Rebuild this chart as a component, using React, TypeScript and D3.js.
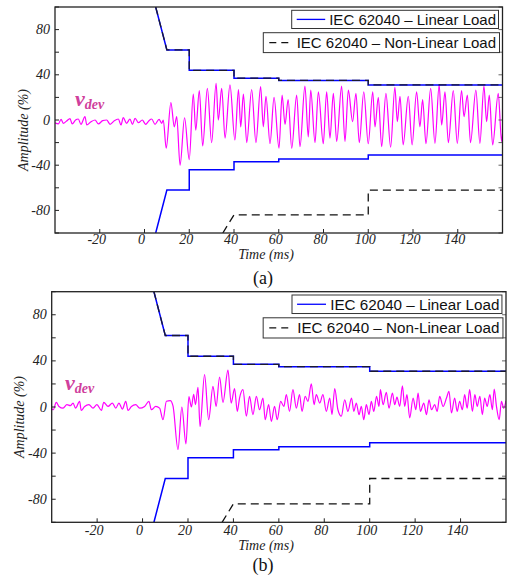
import React from "react";
import * as d3 from "d3";

// axis ticks
const timeTicks = [-20, 0, 20, 40, 60, 80, 100, 120, 140];
const ampTicks = [-80, -40, 0, 40, 80];
const ampMinorTicks = [-100, -80, -60, -40, -20, 0, 20, 40, 60, 80, 100];

// IEC 62040 tolerance envelopes
const limitTimes = [5, 10, 20, 20, 40, 40, 60, 60, 100, 100, 160];
const linearUpper = [100, 62, 62, 44, 44, 37, 37, 35, 35, 31, 31];
const linearLower = [-100, -62, -62, -44, -44, -37, -37, -34.5, -34.5, -31, -31];
const nonLinearUpper = linearUpper;
const nonLinearLowerTimes = [35, 40, 100, 100, 160];
const nonLinearLower = [-100, -84, -84, -62, -62];

const legendLabels = ["IEC 62040 – Linear Load", "IEC 62040 – Non-Linear Load"];
const panelLabels = ["(a)", "(b)"];

// v_dev, panel (a): [time ms, amplitude %]
const vdevA: [number, number][] = [
  [-40, -2.4], [-38.5, -3.5], [-37.3, 0.6], [-36.3, -2.9], [-34.8, -0.9], [-33.3, 1.2], [-32.3, -3.5],
  [-30.8, 0], [-29.6, 0.9], [-28.4, -3.8], [-26.6, 3], [-25.8, -4.4], [-23.9, -1.5], [-22.1, 0],
  [-20.6, -3.5], [-18.7, -0.6], [-16.9, 0], [-15.4, -3.8], [-13.5, -0.6], [-11.7, 0.9], [-10.5, -4.4],
  [-9.5, 2.1], [-8, -2.9], [-6.5, 0.9], [-5.4, -3.8], [-4.2, 1.5], [-2.7, -2.4], [-1, 0], [0.5, -3.8],
  [2, -0.6], [3.2, 0.9], [4.7, -3.8], [6.5, 0.6], [7.7, -2.9], [8.4, 0],
  [9.7, -25], [11.8, 15.5], [13.3, -6], [14.4, 3], [15.9, -40], [17.9, 2], [20, -35], [21.8, 23],
  [22.9, -9], [24.5, 26], [26, -23], [28.1, 28], [30, -20], [32, 32.5], [33, 0], [34.5, 28], [36, -16],
  [38.2, 31], [40.4, -17.7], [42, 27], [43, -6], [44.2, 23], [45.7, -20], [47.9, 27], [49.8, -20],
  [51.9, 29.5], [53.1, -6], [54.3, 21], [56.1, -21], [57.9, 20], [60.1, -25], [61.5, 22], [62.8, -4],
  [64.2, 18], [65.8, -25], [68, 22], [69.5, -23.6], [71.7, 30], [73.2, -15], [74.3, 26.5], [76.2, -20],
  [77.7, 25], [79.9, -21], [81.4, 25], [82.9, -16], [84.4, 23.6], [85.9, -19], [88.1, 30], [89.6, -19],
  [91.1, 26.5], [93, -1.5], [94.5, 23.6], [96, -20], [98, 25], [100, -21], [102, 25], [103, -6],
  [104.5, 20], [106, -23.6], [107.9, 23.6], [110, -24], [111.9, 29], [113, -1.5], [114.2, 21],
  [115.6, -22], [117.9, 21], [119.6, -22], [121.6, 25], [123.1, -6], [124.3, 18], [125.8, -21],
  [127.9, 28], [129.8, -20.6], [131.7, 31], [132.8, -4.4], [134.3, 25], [135.8, -20], [138, 26],
  [139.8, -20.6], [141.7, 26], [142.8, 3], [144.3, 22], [145.7, -20], [148.1, 26.5], [149.9, -20.6],
  [151.7, 30], [152.9, -1.5], [154.1, 22], [155.6, -22], [158.1, 23.6], [159.6, -19], [160, -12],
];

// v_dev, panel (b)
const vdevB: [number, number][] = [
  [-40, -1.5], [-39.3, -2.4], [-38, 4], [-36.8, 0.5], [-35, -1], [-33.3, 2], [-31.8, 1.2], [-30.6, 3.4],
  [-29.5, -1], [-27.7, 4.9], [-27, -3], [-25.5, 0.5], [-23.6, 2], [-21.8, -1], [-20.1, 2], [-18.1, -3],
  [-17.1, 4], [-15.2, 0.5], [-13.3, 3.4], [-11.8, -1], [-10.4, 3.4], [-8.9, -1.8], [-7.4, 4.9],
  [-6.4, -3], [-4.9, 0.5], [-3, 2], [-1.3, -1], [0.9, 0.5], [2.8, 4.9], [3.9, -2.4], [5.8, 0.5],
  [7.5, -1], [9, -11], [10.5, 5], [12.2, 5.5], [13.4, 1], [15.6, -37], [17.3, 0], [19.1, -32],
  [20.4, 9], [21.5, 0], [22.5, 11], [23.3, 2], [24.4, 17], [25.3, -17], [27.3, 28], [29.1, -11],
  [31, 18], [32.4, 0.5], [33.9, 26], [35.4, 4], [37.6, 32], [39, 3.4], [40.5, 16], [41.7, -3.8],
  [42.7, 7.8], [44.2, 15], [45.7, -8], [47.1, 9.2], [48.6, -6.6], [50.1, 9.2], [51.5, -2.4], [53, 7.8],
  [54, -11], [55.5, 2], [56.7, -12.5], [58.1, 0.5], [59.3, -11], [60.8, 4.9], [62.2, 0.5], [63.3, 10.7],
  [64.7, -3.8], [66.2, 15], [67.7, -1], [69.1, 10.7], [70.2, -3.8], [71.6, 9.2], [72.8, 4.9], [74.3, 20],
  [75.5, 2], [76.5, 10.7], [78, 3.4], [79.4, 10.7], [80.9, -3.8], [82.4, 7.8], [83.4, -6.6], [84.6, 16],
  [86, -2.4], [87.5, -8], [89, 6.3], [90.4, -3.8], [92, 7.8], [93, -3.8], [94.1, 3.4], [95.3, -6.6],
  [96.3, 0.5], [97.4, -11], [98.5, 2], [99.7, -6.6], [100.7, 4.9], [101.8, -3.8], [103, 9.2],
  [104.1, 0.5], [104.7, 15], [105.9, 2], [107.3, 12.7], [108.5, -1], [110, 12], [111, 2], [112, 8.6],
  [113.2, 0.5], [114.4, 18.4], [115.4, 0.5], [116.4, 10.7], [117.6, -9.5], [119.1, 7.8], [120.3, -2.4],
  [121.3, 12], [122.3, -3.8], [123.8, 3.4], [125, -6.6], [126.1, 6.3], [127.2, -2.4], [128.6, 2],
  [129.7, -3.8], [130.8, 9.2], [132.3, 0.5], [133.8, 7.8], [134.9, 13.6], [136, -5.2], [137.4, 7.8],
  [138.5, -3.8], [139.6, 4.9], [140.8, -2.4], [141.8, 10.7], [142.9, -1], [144, 15], [145.2, -3.8],
  [146.3, 10.7], [147.3, 0.5], [148.5, 9.2], [149.6, -6.6], [150.6, 7.8], [151.7, 0.5], [152.9, 10.7],
  [154, -2.4], [154.8, 15.6], [155.8, 0.5], [157, -11], [158, 4.9], [159, -1], [160, 5.5],
];

const serif = "'Liberation Serif', 'Times New Roman', serif";
const sans = "'Liberation Sans', Arial, Helvetica, sans-serif";
const magenta = "#ff00ff";
const labelPink = "#d0409c";

type Box = { left: number; right: number; top: number; bottom: number };

const panels = [
  {
    id: "a",
    box: { left: 55, right: 502.5, top: 7, bottom: 233 },
    data: vdevA,
    vdevPos: [75, 106],
    ampLabel: [28, 130],
    timeBase: 259,
    tickBase: 244,
    capBase: 284,
  },
  {
    id: "b",
    box: { left: 51.7, right: 506, top: 291.7, bottom: 522.3 },
    data: vdevB,
    vdevPos: [65, 390],
    ampLabel: [24, 417],
    timeBase: 550,
    tickBase: 535,
    capBase: 571,
  },
];

function Panel({ p, idx }: { p: (typeof panels)[number]; idx: number }) {
  const b: Box = p.box;
  const x = d3.scaleLinear().domain([-40, 160]).range([b.left, b.right]);
  const y = d3.scaleLinear().domain([-100, 100]).range([b.bottom, b.top]);

  const line = d3
    .line<[number, number]>()
    .x((d) => x(d[0]))
    .y((d) => y(d[1]));
  const smooth = d3
    .line<[number, number]>()
    .x((d) => x(d[0]))
    .y((d) => y(d[1]))
    .curve(d3.curveMonotoneX);

  const zip = (ts: number[], vs: number[]) => ts.map((t, i) => [t, vs[i]] as [number, number]);

  const clipId = "clip-" + p.id;
  const s = (b.right - b.left) / 447.5;
  const R = b.right;
  const T = b.top;

  const box1 = { x0: R - 210.8 * s, x1: R - 4 * s, y0: T + 3.3, y1: T + 21.5 * s };
  const box2 = { x0: R - 239.2 * s, x1: R - 3 * s, y0: T + 25.7 * s, y1: T + 45.6 * s };

  return (
    <g>
      <defs>
        <clipPath id={clipId}>
          <rect x={b.left} y={b.top} width={b.right - b.left} height={b.bottom - b.top} />
        </clipPath>
      </defs>

      <g clipPath={`url(#${clipId})`}>
        <path d={smooth(p.data) || ""} fill="none" stroke={magenta} strokeWidth={1.2} />
        <path d={line(zip(limitTimes, linearUpper)) || ""} fill="none" stroke="#0000ff" strokeWidth={1.5} />
        <path d={line(zip(limitTimes, linearLower)) || ""} fill="none" stroke="#0000ff" strokeWidth={1.5} />
        <path
          d={line(zip(limitTimes, nonLinearUpper)) || ""}
          fill="none"
          stroke="#1a1a2e"
          strokeWidth={1.3}
          strokeDasharray="8,5"
        />
        <path
          d={line(zip(nonLinearLowerTimes, nonLinearLower)) || ""}
          fill="none"
          stroke="#111"
          strokeWidth={1.3}
          strokeDasharray="8,5"
        />
      </g>

      {/* ticks */}
      {ampMinorTicks.map((v) => (
        <g key={"yt" + v}>
          <line x1={b.left} x2={b.left + 4} y1={y(v)} y2={y(v)} stroke="#222" strokeWidth={1} />
          <line x1={b.right} x2={b.right - 4} y1={y(v)} y2={y(v)} stroke="#666" strokeWidth={1} />
        </g>
      ))}
      {timeTicks.map((t) => (
        <line key={"xt" + t} x1={x(t)} x2={x(t)} y1={b.bottom} y2={b.bottom - 4} stroke="#222" strokeWidth={1} />
      ))}

      <rect
        x={b.left}
        y={b.top}
        width={b.right - b.left}
        height={b.bottom - b.top}
        fill="none"
        stroke="#222"
        strokeWidth={1.3}
      />

      {/* tick labels */}
      {ampTicks.map((v) => (
        <text
          key={"yl" + v}
          x={b.left - 5}
          y={y(v) + 4.5}
          textAnchor="end"
          fontFamily={serif}
          fontStyle="italic"
          fontSize={14}
          fill="#222"
        >
          {v}
        </text>
      ))}
      {timeTicks.map((t) => (
        <text
          key={"xl" + t}
          x={x(t) - 3}
          y={p.tickBase}
          textAnchor="middle"
          fontFamily={serif}
          fontStyle="italic"
          fontSize={14}
          fill="#222"
        >
          {t}
        </text>
      ))}

      <text
        transform={`translate(${p.ampLabel[0]},${p.ampLabel[1]}) rotate(-90)`}
        textAnchor="middle"
        fontFamily={serif}
        fontStyle="italic"
        fontSize={14}
        fill="#222"
      >
        Amplitude (%)
      </text>
      <text x={266} y={p.timeBase} textAnchor="middle" fontFamily={serif} fontStyle="italic" fontSize={14} fill="#222">
        Time (ms)
      </text>
      <text x={263} y={p.capBase} textAnchor="middle" fontFamily={serif} fontSize={18} fill="#111">
        {panelLabels[idx]}
      </text>

      <text x={p.vdevPos[0]} y={p.vdevPos[1]} fontFamily={serif} fontStyle="italic" fontWeight="bold" fill={labelPink}>
        <tspan fontSize={22}>v</tspan>
        <tspan fontSize={14} dy={3}>
          dev
        </tspan>
      </text>

      {/* legend */}
      <rect
        x={box1.x0}
        y={box1.y0}
        width={box1.x1 - box1.x0}
        height={box1.y1 - box1.y0}
        fill="#fff"
        stroke="#333"
        strokeWidth={1}
      />
      <line
        x1={box1.x0 + 5 * s}
        x2={box1.x0 + 33.5 * s}
        y1={(box1.y0 + box1.y1) / 2}
        y2={(box1.y0 + box1.y1) / 2}
        stroke="#0000ff"
        strokeWidth={1.3}
      />
      <text
        x={box1.x1 - 2.5 * s}
        y={(box1.y0 + box1.y1) / 2 + 5.3}
        textAnchor="end"
        fontFamily={sans}
        fontSize={15 * s}
        fill="#111"
      >
        {legendLabels[0]}
      </text>
      <rect
        x={box2.x0}
        y={box2.y0}
        width={box2.x1 - box2.x0}
        height={box2.y1 - box2.y0}
        fill="#fff"
        stroke="#333"
        strokeWidth={1}
      />
      <line
        x1={box2.x0 + 6 * s}
        x2={box2.x0 + 25 * s}
        y1={(box2.y0 + box2.y1) / 2}
        y2={(box2.y0 + box2.y1) / 2}
        stroke="#111"
        strokeWidth={1.2}
        strokeDasharray="7,5"
      />
      <text
        x={box2.x1 - 3.5 * s}
        y={(box2.y0 + box2.y1) / 2 + 5.3}
        textAnchor="end"
        fontFamily={sans}
        fontSize={15 * s}
        fill="#111"
      >
        {legendLabels[1]}
      </text>
    </g>
  );
}

export default function App() {
  return (
    <svg
      width={517}
      height={582}
      viewBox="0 0 517 582"
      style={{ position: "absolute", left: 0, top: 0, background: "#fff" }}
    >
      <rect width={517} height={582} fill="#fff" />
      {panels.map((p, i) => (
        <Panel key={p.id} p={p} idx={i} />
      ))}
    </svg>
  );
}
